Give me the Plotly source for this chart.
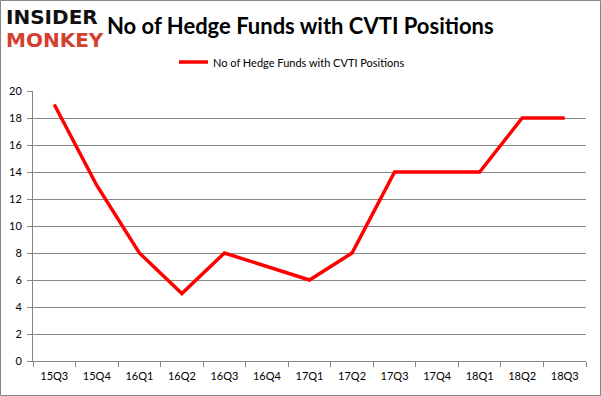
import plotly.graph_objects as go

quarters = ["15Q3", "15Q4", "16Q1", "16Q2", "16Q3", "16Q4", "17Q1",
            "17Q2", "17Q3", "17Q4", "18Q1", "18Q2", "18Q3"]
funds = [19, 13, 8, 5, 8, 7, 6, 8, 14, 14, 14, 18, 18]
series_name = "No of Hedge Funds with CVTI Positions"
title_text = "No of Hedge Funds with CVTI Positions"

W, H = 601, 396
L, R, T, B = 33, 15, 91, 35
pw, ph = W - L - R, H - T - B

def px(x):
    return (x - L) / pw

def py(y):
    return (H - B - y) / ph

fig = go.Figure()
fig.add_trace(go.Scatter(
    x=quarters, y=funds, mode="lines", name=series_name,
    line=dict(color="#ff0000", width=3.5), showlegend=False,
))

fig.update_layout(
    width=W, height=H,
    margin=dict(l=L, r=R, t=T, b=B, autoexpand=False),
    paper_bgcolor="white", plot_bgcolor="white",
    font=dict(family="Lato, Open Sans, sans-serif", size=11, color="#000000"),
    showlegend=False,
    xaxis=dict(
        type="category", range=[-0.5, len(quarters) - 0.5], showgrid=False,
        showline=True, linecolor="#868686", linewidth=1,
        ticks="outside", ticklen=5, tickcolor="#868686", tickson="boundaries",
        tickfont=dict(size=11, color="#000000"), ticklabelstandoff=5,
        fixedrange=True, automargin=False,
    ),
    yaxis=dict(
        range=[0, 20], dtick=2, showgrid=True, gridcolor="#868686", gridwidth=1,
        showline=True, linecolor="#868686", linewidth=1, ticks="outside", ticklen=5,
        tickcolor="#868686", tickfont=dict(size=11, color="#000000"), zeroline=False,
        ticklabelstandoff=3, fixedrange=True, automargin=False,
    ),
)

# legend (drawn manually: line sample + label)
fig.add_shape(type="line", xref="paper", yref="paper",
              x0=px(179), x1=px(208), y0=py(62), y1=py(62),
              line=dict(color="#ff0000", width=3.5))
fig.add_annotation(text=series_name, xref="paper", yref="paper",
                   x=px(211), y=py(62), xanchor="left", yanchor="middle",
                   showarrow=False, font=dict(size=11, color="#000000"))

# title
fig.add_annotation(text="<b>" + title_text + "</b>", xref="paper", yref="paper",
                   x=px(300), y=py(25), xanchor="center", yanchor="middle",
                   showarrow=False, font=dict(size=22, color="#000000",
                                              family="Lato, Open Sans, sans-serif"))
# logo
fig.add_annotation(text="<b>INSIDER</b>", xref="paper", yref="paper",
                   x=px(4), y=py(16.5), xanchor="left", yanchor="middle",
                   showarrow=False, font=dict(size=20, color="#111111",
                                              family="DejaVu Sans, sans-serif"))
fig.add_annotation(text="<b>MONKEY</b>", xref="paper", yref="paper",
                   x=px(4), y=py(40), xanchor="left", yanchor="middle",
                   showarrow=False, font=dict(size=20, color="#d2402e",
                                              family="DejaVu Sans, sans-serif"))
# outer border
fig.add_shape(type="rect", xref="paper", yref="paper",
              x0=px(0.5), x1=px(600.5), y0=py(0.5), y1=py(395.5),
              line=dict(color="#868686", width=1), fillcolor="rgba(0,0,0,0)")

fig.write_html("out.html", config={"displayModeBar": False},
               post_script="document.body.style.margin='0';document.body.style.padding='0';document.body.style.overflow='hidden';")
